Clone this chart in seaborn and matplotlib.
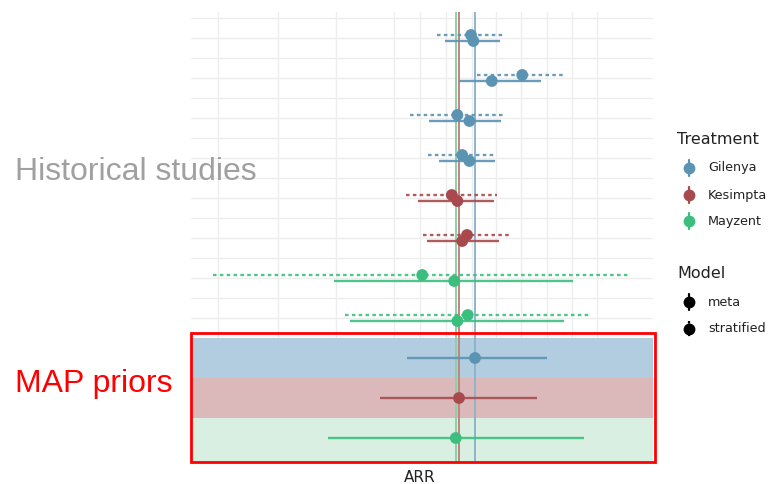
import matplotlib
matplotlib.use("Agg")
import matplotlib.pyplot as plt
from matplotlib.lines import Line2D
from matplotlib.patches import Rectangle
import numpy as np
import pandas as pd
import seaborn as sns

# ---- data -------------------------------------------------------------
treatments = ["Gilenya", "Kesimpta", "Mayzent"]
study_treatment = ["Gilenya", "Gilenya", "Gilenya", "Gilenya",
                   "Kesimpta", "Kesimpta", "Mayzent", "Mayzent"]

# stratified estimates (dotted intervals)
strat_est = [0.350, 0.414, 0.333, 0.339, 0.326, 0.345, 0.289, 0.346]
strat_lo = [0.308, 0.358, 0.274, 0.296, 0.269, 0.290, 0.028, 0.193]
strat_hi = [0.390, 0.469, 0.390, 0.380, 0.383, 0.398, 0.546, 0.500]

# meta-analytic estimates (solid intervals)
meta_est = [0.353, 0.376, 0.348, 0.348, 0.333, 0.339, 0.329, 0.333]
meta_lo = [0.318, 0.335, 0.298, 0.310, 0.284, 0.295, 0.179, 0.199]
meta_hi = [0.386, 0.438, 0.388, 0.380, 0.379, 0.385, 0.478, 0.466]

# MAP priors per treatment
map_est = [0.355, 0.335, 0.331]
map_lo = [0.270, 0.236, 0.171]
map_hi = [0.445, 0.433, 0.491]

# ---- styling ----------------------------------------------------------
palette = {"Gilenya": "#5b93b3", "Kesimpta": "#a84a4d", "Mayzent": "#3cbf7e"}
band_colors = {"Gilenya": "#b3cde0", "Kesimpta": "#dbb9bb", "Mayzent": "#d8efe2"}
ref_colors = {"Gilenya": "#8fb4ca", "Kesimpta": "#c97f80", "Mayzent": "#86d4a8"}
x_grid = [0.034, 0.109, 0.181, 0.254, 0.286, 0.319, 0.351,
          0.381, 0.4125, 0.445, 0.476, 0.5075]

sns.set_theme(style="white")
plt.rcParams["font.family"] = ["DejaVu Sans"]

W, H = 771, 484
fig = plt.figure(figsize=(W / 100, H / 100), dpi=100)
ax_l, ax_r, ax_t, ax_b = 191, 653, 12, 462
ax = fig.add_axes([ax_l / W, 1 - ax_b / H, (ax_r - ax_l) / W, (ax_b - ax_t) / H])

n_study = len(study_treatment)
dodge = 0.075

# long-format table for the points
rows = []
for i, tr in enumerate(study_treatment):
    rows.append(dict(y=i - dodge, est=strat_est[i], lo=strat_lo[i], hi=strat_hi[i],
                     Treatment=tr, Model="stratified"))
    rows.append(dict(y=i + dodge, est=meta_est[i], lo=meta_lo[i], hi=meta_hi[i],
                     Treatment=tr, Model="meta"))
for j, tr in enumerate(treatments):
    rows.append(dict(y=n_study + j, est=map_est[j], lo=map_lo[j], hi=map_hi[j],
                     Treatment=tr, Model="map"))
df = pd.DataFrame(rows)

# grid
for gx in x_grid:
    ax.axvline(gx, color="#ededed", lw=1.0, zorder=0)
for gy in np.arange(-0.5, n_study + 3, 0.5):
    ax.axhline(gy, color="#ededed", lw=1.0, zorder=0)

# shaded MAP bands
for j, tr in enumerate(treatments):
    top = n_study + j - 0.5
    bot = n_study + j + 0.5 if j < len(treatments) - 1 else n_study + j + 0.7
    ax.axhspan(top, bot, color=band_colors[tr], lw=0, zorder=1)

# reference lines at MAP means
for j, tr in enumerate(treatments):
    ax.axvline(map_est[j], color=ref_colors[tr], lw=1.4, zorder=2)

# intervals
for _, r in df.iterrows():
    ls = (0, (1.5, 1.4)) if r.Model == "stratified" else "-"
    ax.hlines(r.y, r.lo, r.hi, color=palette[r.Treatment], lw=1.7,
              linestyles=[ls], alpha=0.9, zorder=3)

sns.scatterplot(data=df, x="est", y="y", hue="Treatment", palette=palette,
                s=72, edgecolor="none", legend=False, ax=ax, zorder=4)

ax.set_xlim(0, 0.5775)
ax.set_ylim(n_study + 2.6, -0.65)
ax.set_xticks([])
ax.set_yticks([])
ax.set_xlabel("")
ax.set_ylabel("")
for s in ax.spines.values():
    s.set_visible(False)

fig.text(420 / W, 1 - 477 / H, "ARR", ha="center", va="center",
         fontsize=11, color="#222222")

# section labels
fig.text(15 / W, 1 - 172 / H, "Historical studies", ha="left", va="center",
         fontsize=23, color="#a0a0a0", family="Liberation Sans")
fig.text(15 / W, 1 - 384 / H, "MAP priors", ha="left", va="center",
         fontsize=23, color="#ff0000", family="Liberation Sans")

# highlight box around MAP priors
fig.add_artist(Rectangle((191 / W, 1 - 462 / H), (655 - 191) / W, (462 - 333) / H,
                         transform=fig.transFigure, fill=False,
                         edgecolor="#ff0000", lw=2.0, zorder=10))

# legend
def key(yp, color, ls):
    xk = 689 / W
    fig.add_artist(Line2D([xk, xk], [1 - (yp - 8) / H, 1 - (yp + 8) / H],
                          transform=fig.transFigure, color=color, lw=1.6,
                          linestyle=ls))
    fig.add_artist(Line2D([xk], [1 - yp / H], transform=fig.transFigure,
                          marker="o", markersize=8.5, color=color,
                          markeredgewidth=0))

fig.text(677 / W, 1 - 140 / H, "Treatment", ha="left", va="center",
         fontsize=11.5, color="#222222")
for tr, yp in zip(treatments, [168, 195, 221]):
    key(yp, palette[tr], "-")
    fig.text(708 / W, 1 - yp / H, tr, ha="left", va="center", fontsize=9.2,
             color="#222222")

fig.text(677 / W, 1 - 273 / H, "Model", ha="left", va="center",
         fontsize=11.5, color="#222222")
for lab, yp, ls in [("meta", 302, "-"), ("stratified", 329, (0, (1.2, 1.6)))]:
    key(yp, "black", ls)
    fig.text(708 / W, 1 - yp / H, lab, ha="left", va="center", fontsize=9.2,
             color="#222222")

fig.savefig("out.png", dpi=100)
